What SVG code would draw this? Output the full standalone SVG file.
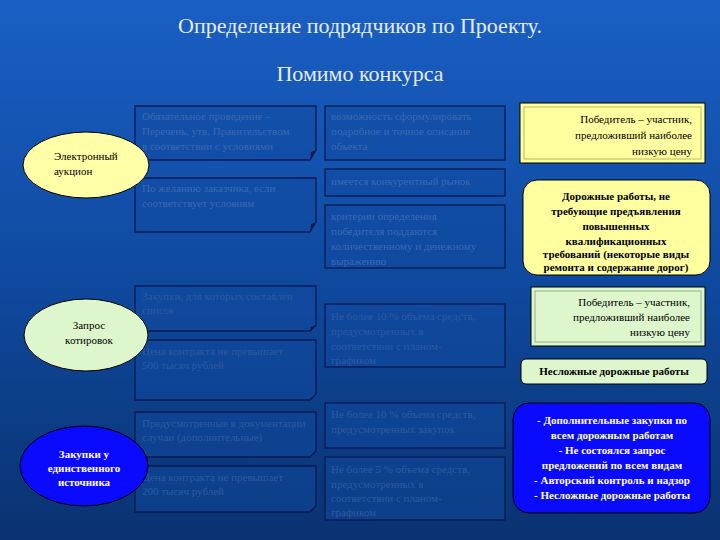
<svg xmlns="http://www.w3.org/2000/svg" width="720" height="540" viewBox="0 0 720 540" font-family="'Liberation Serif','Times New Roman','DejaVu Serif',serif">
<defs>
<linearGradient id="bg" x1="0" y1="0" x2="0" y2="1">
<stop offset="0" stop-color="#1a5fc4"/><stop offset="0.5" stop-color="#0f4aa0"/><stop offset="1" stop-color="#0a3270"/>
</linearGradient>
</defs>
<style>
text{font-family:'Liberation Serif','Times New Roman','DejaVu Serif',serif}
.t{fill:#e6ecf4}
.bx{fill:#0f4aa0;fill-opacity:0.5;stroke:#0a1a50;stroke-width:1.3}
.bt{font-size:11px;fill:#3d68b0}
.bt2{font-size:11px;fill:#2e5a9e}
.rt{font-size:11px;fill:#000}
.rb{font-size:11px;font-weight:bold;fill:#000}
.wb{font-size:11px;font-weight:bold;fill:#fff}
.el{stroke:#000;stroke-width:1}
</style>
<rect width="720" height="540" fill="url(#bg)"/>
<text class="t" x="360" y="33" font-size="22" text-anchor="middle">Определение подрядчиков по Проекту.</text>
<text class="t" x="360" y="81" font-size="22" text-anchor="middle">Помимо конкурса</text>

<g id="connectors"></g>

<g id="box-a1"><path class="bx" d="M135 106H316V150L310 160H135Z"/><path d="M310 160L316 150L311 152Z" fill="#0a1a50"/>
<text class="bt" x="142" y="120">Обязательное проведение –</text><text class="bt" x="142" y="135">Перечень, утв. Правительством</text><text class="bt" x="142" y="150">в соответствии с условиями</text></g>
<g id="box-a2"><path class="bx" d="M135 178H316V222L310 232H135Z"/><path d="M310 232L316 222L311 224Z" fill="#0a1a50"/>
<text class="bt" x="142" y="192">По желанию заказчика, если</text><text class="bt" x="142" y="207">соответствует условиям</text></g>
<g id="box-b1"><rect class="bx" x="325" y="106" width="180" height="54"/>
<text class="bt" x="331" y="120">возможность сформулировать</text><text class="bt" x="331" y="135">подробное и точное описание</text><text class="bt" x="331" y="150">объекта</text></g>
<g id="box-b2"><rect class="bx" x="325" y="169" width="180" height="27"/><text class="bt" x="331" y="185">имеется конкурентный рынок</text></g>
<g id="box-b3"><rect class="bx" x="325" y="205" width="180" height="63"/>
<text class="bt" x="331" y="220">критерии определения</text><text class="bt" x="331" y="235">победителя поддаются</text><text class="bt" x="331" y="250">количественному и денежному</text><text class="bt" x="331" y="265">выражению</text></g>

<g id="box-c1"><path class="bx" d="M135 286H316V325L310 331H135Z"/><path d="M310 331L316 325L311 327Z" fill="#0a1a50"/>
<text class="bt2" x="142" y="300">Закупки, для которых составлен</text><text class="bt2" x="142" y="314">список</text></g>
<g id="box-c2"><path class="bx" d="M135 340H316V394L310 400H135Z"/>
<text class="bt2" x="142" y="355">Цена контракта не превышает</text><text class="bt2" x="142" y="369">500 тысяч рублей</text></g>
<g id="box-d1"><rect class="bx" x="325" y="304" width="180" height="63"/>
<text class="bt2" x="331" y="320">Не более 10 % объема средств,</text><text class="bt2" x="331" y="335">предусмотренных в</text><text class="bt2" x="331" y="350">соответствии с планом-</text><text class="bt2" x="331" y="364">графиком</text></g>

<g id="box-e1"><path class="bx" d="M135 412H316V451L310 457H135Z"/>
<text class="bt2" x="142" y="427">Предусмотренные в документации</text><text class="bt2" x="142" y="441">случаи (дополнительные)</text></g>
<g id="box-e2"><path class="bx" d="M135 466H316V506L310 512H135Z"/>
<text class="bt2" x="142" y="481">Цена контракта не превышает</text><text class="bt2" x="142" y="495">200 тысяч рублей</text></g>
<g id="box-f1"><rect class="bx" x="325" y="403" width="180" height="45"/>
<text class="bt2" x="331" y="418">Не более 10 % объема средств,</text><text class="bt2" x="331" y="433">предусмотренных закупок</text></g>
<g id="box-f2"><rect class="bx" x="325" y="457" width="180" height="63"/>
<text class="bt2" x="331" y="473">Не более 5 % объема средств,</text><text class="bt2" x="331" y="488">предусмотренных в</text><text class="bt2" x="331" y="502">соответствии с планом-</text><text class="bt2" x="331" y="516">графиком</text></g>

<g id="ell-1"><ellipse class="el" cx="86" cy="165" rx="63" ry="33" fill="#ffffa8"/>
<text class="rt" x="54" y="160">Электронный</text><text class="rt" x="54" y="175">аукцион</text></g>
<g id="ell-2"><ellipse class="el" cx="86" cy="335" rx="62" ry="36" fill="#ddf6cc"/>
<text class="rt" x="89" y="329" text-anchor="middle">Запрос</text><text class="rt" x="89" y="344" text-anchor="middle">котировок</text></g>
<g id="ell-3"><ellipse class="el" cx="84" cy="466" rx="64" ry="40" fill="#0a0aff"/>
<text class="wb" x="84" y="458" text-anchor="middle">Закупки у</text><text class="wb" x="84" y="472" text-anchor="middle">единственного</text><text class="wb" x="84" y="486" text-anchor="middle">источника</text></g>

<g id="r1"><rect x="520" y="103" width="185" height="60" fill="#ffffa0" stroke="#000"/><rect x="524" y="107" width="177" height="52" fill="none" stroke="#b8b860"/>
<text class="rt" x="692" y="123" text-anchor="end">Победитель – участник,</text><text class="rt" x="692" y="139" text-anchor="end">предложивший наиболее</text><text class="rt" x="692" y="155" text-anchor="end">низкую цену</text></g>
<g id="r2"><rect x="523" y="180" width="187" height="95" rx="14" fill="#ffffa0" stroke="#000"/>
<text class="rb" x="616" y="200" text-anchor="middle">Дорожные работы, не</text><text class="rb" x="616" y="215" text-anchor="middle">требующие предъявления</text><text class="rb" x="616" y="230" text-anchor="middle">повышенных</text><text class="rb" x="616" y="245" text-anchor="middle">квалификационных</text><text class="rb" x="616" y="258" text-anchor="middle">требований (некоторые виды</text><text class="rb" x="616" y="271" text-anchor="middle">ремонта и содержание дорог)</text></g>
<g id="r3"><rect x="531" y="287" width="174" height="59" fill="#ddf6cc" stroke="#000"/><rect x="535" y="291" width="166" height="51" fill="none" stroke="#9ab08a"/>
<text class="rt" x="690" y="306" text-anchor="end">Победитель – участник,</text><text class="rt" x="690" y="321" text-anchor="end">предложивший наиболее</text><text class="rt" x="690" y="336" text-anchor="end">низкую цену</text></g>
<g id="r4"><rect x="521" y="359" width="186" height="25" rx="5" fill="#ddf6cc" stroke="#000"/>
<text class="rb" x="614" y="375" text-anchor="middle">Несложные дорожные работы</text></g>
<g id="r5"><rect x="513" y="403" width="197" height="110" rx="16" fill="#0a0aff" stroke="#000"/>
<text class="wb" x="612" y="424" text-anchor="middle">- Дополнительные закупки по</text><text class="wb" x="612" y="439" text-anchor="middle">всем дорожным работам</text><text class="wb" x="612" y="454" text-anchor="middle">- Не состоялся запрос</text><text class="wb" x="612" y="469" text-anchor="middle">предложений по всем видам</text><text class="wb" x="612" y="484" text-anchor="middle">- Авторский контроль и надзор</text><text class="wb" x="612" y="499" text-anchor="middle">- Несложные дорожные работы</text></g>
</svg>
